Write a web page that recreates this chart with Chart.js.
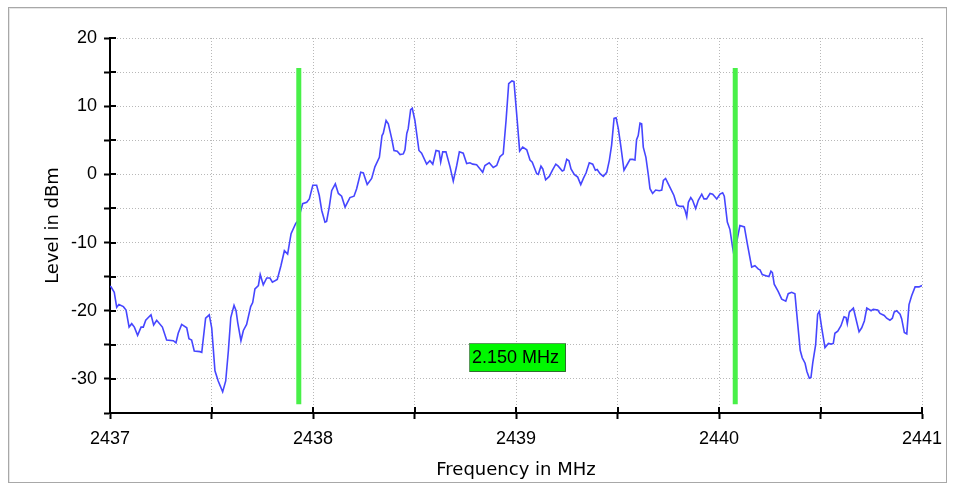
<!doctype html>
<html lang="en">
<head>
<meta charset="utf-8">
<title>Spectrum | Marker span</title>
<script src="https://cdn.jsdelivr.net/npm/chart.js@4"></script>
<style>
  html, body { margin: 0; padding: 0; background: #fff; }
  .panel { position: relative; width: 955px; height: 485px; }
  .panel canvas { position: absolute; left: 0; top: 0; }
  .frame {
    position: absolute; left: 8px; top: 7px; width: 937px; height: 474px;
    border: 1px solid #a8a8a8; box-shadow: inset 1px 1px 0 #e6e6e6;
    pointer-events: none;
  }
</style>
</head>
<body>
<div class="panel">
  <canvas id="spectrum" width="955" height="485"></canvas>
  <div class="frame"></div>
</div>

<script>
const freqMHz = [
  2437.000, 2437.005, 2437.021, 2437.033, 2437.044, 2437.066, 2437.079, 2437.094, 2437.107, 2437.120,
  2437.136, 2437.153, 2437.164, 2437.176, 2437.202, 2437.215, 2437.230, 2437.258, 2437.279, 2437.312,
  2437.325, 2437.336, 2437.353, 2437.378, 2437.389, 2437.402, 2437.415, 2437.443, 2437.452, 2437.471,
  2437.489, 2437.501, 2437.517, 2437.533, 2437.555, 2437.570, 2437.583, 2437.595, 2437.611, 2437.621,
  2437.629, 2437.645, 2437.657, 2437.673, 2437.693, 2437.703, 2437.714, 2437.731, 2437.740, 2437.755,
  2437.772, 2437.788, 2437.800, 2437.824, 2437.842, 2437.859, 2437.875, 2437.892, 2437.915, 2437.926,
  2437.949, 2437.969, 2437.982, 2437.999, 2438.018, 2438.031, 2438.043, 2438.059, 2438.067, 2438.080,
  2438.092, 2438.110, 2438.125, 2438.141, 2438.158, 2438.182, 2438.202, 2438.215, 2438.235, 2438.248,
  2438.267, 2438.289, 2438.305, 2438.327, 2438.340, 2438.346, 2438.360, 2438.371, 2438.388, 2438.399,
  2438.415, 2438.429, 2438.445, 2438.453, 2438.462, 2438.469, 2438.481, 2438.489, 2438.502, 2438.522,
  2438.535, 2438.560, 2438.576, 2438.590, 2438.606, 2438.621, 2438.629, 2438.639, 2438.655, 2438.675,
  2438.691, 2438.708, 2438.721, 2438.740, 2438.757, 2438.773, 2438.787, 2438.806, 2438.823, 2438.836,
  2438.847, 2438.868, 2438.888, 2438.905, 2438.921, 2438.937, 2438.951, 2438.964, 2438.980, 2438.990,
  2439.006, 2439.018, 2439.033, 2439.053, 2439.069, 2439.080, 2439.102, 2439.110, 2439.123, 2439.132,
  2439.146, 2439.164, 2439.179, 2439.196, 2439.208, 2439.228, 2439.236, 2439.250, 2439.261, 2439.271,
  2439.287, 2439.304, 2439.319, 2439.332, 2439.345, 2439.361, 2439.378, 2439.391, 2439.400, 2439.414,
  2439.430, 2439.447, 2439.460, 2439.471, 2439.483, 2439.493, 2439.504, 2439.517, 2439.532, 2439.545,
  2439.562, 2439.575, 2439.586, 2439.594, 2439.602, 2439.611, 2439.619, 2439.627, 2439.640, 2439.652,
  2439.660, 2439.673, 2439.688, 2439.706, 2439.718, 2439.726, 2439.737, 2439.750, 2439.770, 2439.778,
  2439.792, 2439.808, 2439.824, 2439.833, 2439.841, 2439.849, 2439.861, 2439.870, 2439.885, 2439.898,
  2439.915, 2439.926, 2439.939, 2439.956, 2439.969, 2439.989, 2440.005, 2440.018, 2440.026, 2440.041,
  2440.054, 2440.067, 2440.074, 2440.103, 2440.125, 2440.141, 2440.161, 2440.177, 2440.194, 2440.202,
  2440.213, 2440.235, 2440.246, 2440.256, 2440.263, 2440.272, 2440.292, 2440.309, 2440.329, 2440.341,
  2440.358, 2440.374, 2440.388, 2440.400, 2440.410, 2440.424, 2440.433, 2440.445, 2440.453, 2440.462,
  2440.476, 2440.486, 2440.494, 2440.506, 2440.522, 2440.539, 2440.552, 2440.563, 2440.571, 2440.585,
  2440.601, 2440.616, 2440.626, 2440.632, 2440.642, 2440.662, 2440.673, 2440.690, 2440.703, 2440.716,
  2440.728, 2440.739, 2440.749, 2440.760, 2440.782, 2440.793, 2440.814, 2440.826, 2440.842, 2440.854,
  2440.863, 2440.875, 2440.892, 2440.900, 2440.913, 2440.925, 2440.936, 2440.949, 2440.966, 2440.985, 2441.000
];
const levelDbm = [
  -16.4, -16.5, -17.3, -19.5, -19.1, -19.4, -19.9, -22.4, -21.9, -22.4,
  -23.6, -22.4, -22.4, -21.4, -20.6, -22.1, -21.4, -22.4, -24.3, -24.4,
  -24.7, -23.3, -22.0, -22.5, -24.1, -24.3, -25.9, -26.0, -26.1, -21.1,
  -20.6, -22.5, -28.8, -30.3, -31.9, -30.3, -25.9, -21.0, -19.2, -20.0,
  -21.7, -24.4, -22.9, -22.0, -19.4, -18.8, -16.8, -16.3, -14.7, -16.2,
  -15.2, -15.2, -15.8, -15.4, -13.4, -11.2, -11.7, -8.7, -7.2, -6.8,
  -4.3, -4.1, -3.6, -1.6, -1.6, -3.1, -5.3, -7.0, -6.9, -4.8,
  -2.4, -1.4, -2.8, -3.2, -4.8, -3.4, -3.2, -2.1, 0.3, 0.2,
  -1.5, -0.6, 1.1, 2.5, 5.7, 6.0, 7.9, 7.4, 5.2, 3.5,
  3.4, 2.9, 3.0, 3.6, 6.0, 6.7, 9.5, 9.7, 7.9, 3.5,
  3.1, 1.5, 2.0, 1.5, 3.5, 3.4, 1.8, 3.3, 3.3, 1.1,
  -1.0, 1.3, 3.3, 3.1, 1.6, 1.7, 1.5, 1.4, 0.8, 0.3,
  1.3, 1.7, 1.0, 1.3, 2.6, 3.0, 7.9, 13.3, 13.7, 13.6,
  7.9, 3.4, 4.0, 3.6, 2.1, 1.8, 0.1, 0.0, 1.2, 0.8,
  -0.8, -0.3, 0.6, 1.5, 1.2, 0.5, 0.6, 2.2, 2.0, 0.8,
  0.0, -0.4, -1.5, -0.6, 0.2, 1.7, 1.5, 0.6, 0.7, 0.1,
  -0.3, 0.3, 2.1, 4.3, 8.2, 8.3, 6.7, 4.0, 0.6, 1.3,
  2.2, 2.2, 2.1, 5.1, 5.7, 7.5, 7.4, 4.0, 2.5, -0.1,
  -2.1, -2.8, -2.3, -2.4, -2.3, -0.9, -0.6, -1.4, -2.6, -3.1,
  -4.5, -4.7, -4.7, -5.3, -6.2, -4.1, -3.4, -3.8, -5.0, -3.8,
  -2.9, -3.6, -3.6, -2.8, -2.9, -3.6, -2.9, -2.7, -3.2, -7.0,
  -8.1, -10.7, -11.9, -7.5, -7.7, -10.4, -13.6, -13.4, -13.9, -14.0,
  -14.7, -14.9, -15.0, -14.2, -14.4, -16.1, -17.2, -18.3, -18.6, -17.5,
  -17.3, -17.5, -22.0, -25.8, -26.9, -27.7, -28.9, -29.9, -29.8, -27.6,
  -25.0, -20.5, -20.1, -22.5, -25.4, -24.8, -24.9, -24.8, -23.3, -23.0,
  -22.2, -20.9, -21.0, -21.9, -20.2, -19.6, -21.0, -23.1, -22.5, -21.5,
  -19.6, -19.8, -20.0, -19.8, -19.9, -20.4, -20.7, -21.1, -21.4, -21.1,
  -20.2, -20.0, -20.5, -21.2, -23.2, -23.4, -19.1, -17.8, -16.5, -16.5, -16.3
];

// the two green markers and the span they measure
const markerMHz = [2437.93, 2440.08];
const markerSpanDbm = [15.6, -33.7];
const spanLabelDbm = -26.8;

// axes
const freqRange = [2437, 2441];
const levelRange = [-35, 20];

const tickFont = { family: "'Liberation Sans Narrow', 'Liberation Sans', Arial, sans-serif", size: 18 };
const titleFont = { family: "'DejaVu Sans', sans-serif", size: 18 };

const trace = freqMHz.map((f, i) => ({ x: f, y: levelDbm[i] }));
const markerSets = markerMHz.map(f => ({
    data: markerSpanDbm.map(v => ({ x: f, y: v })),
    borderColor: '#48f048',
    borderWidth: 5,
    borderCapStyle: 'butt',
    pointRadius: 0,
    order: 0
}));

// inner half of the tick marks + the span readout box
const overlay = {
    id: 'overlay',
    afterDraw(chart) {
        const { ctx, scales: { x, y } } = chart;
        ctx.save();
        ctx.strokeStyle = '#000';
        ctx.lineWidth = 2;
        ctx.beginPath();
        x.ticks.forEach(t => {
            const px = Math.round(x.getPixelForValue(t.value));
            ctx.moveTo(px, y.bottom);
            ctx.lineTo(px, y.bottom - 6);
        });
        y.ticks.forEach(t => {
            const py = Math.round(y.getPixelForValue(t.value));
            ctx.moveTo(x.left, py);
            ctx.lineTo(x.left + 6, py);
        });
        ctx.stroke();

        const span = markerMHz[1] - markerMHz[0];
        const cx = x.getPixelForValue((markerMHz[0] + markerMHz[1]) / 2);
        const cy = y.getPixelForValue(spanLabelDbm);
        const w = 97, h = 29;
        const bx = Math.round(cx - w / 2), by = Math.round(cy - h / 2);
        ctx.fillStyle = '#00f800';
        ctx.fillRect(bx, by, w, h);
        ctx.lineWidth = 1;
        ctx.strokeStyle = '#5a9a5a';
        ctx.strokeRect(bx + 0.5, by + 0.5, w - 1, h - 1);
        ctx.strokeStyle = '#2e6e2e';
        ctx.beginPath();
        ctx.moveTo(bx + 1, by + h - 0.5);
        ctx.lineTo(bx + w - 0.5, by + h - 0.5);
        ctx.lineTo(bx + w - 0.5, by + 1);
        ctx.stroke();
        ctx.fillStyle = '#000';
        ctx.font = tickFont.size + 'px ' + tickFont.family;
        ctx.textAlign = 'left';
        ctx.textBaseline = 'middle';
        ctx.fillText(span.toFixed(3) + ' MHz', bx + 3, by + h / 2 + 1);
        ctx.restore();
    }
};

new Chart(document.getElementById('spectrum'), {
    type: 'line',
    data: {
        datasets: [
            {
                data: trace,
                borderColor: '#4646ff',
                borderWidth: 1.6,
                pointRadius: 0,
                tension: 0,
                order: 1
            },
            ...markerSets
        ]
    },
    options: {
        responsive: false,
        animation: false,
        events: [],
        layout: { padding: { top: 38, right: 33, left: 0, bottom: 0 } },
        plugins: { legend: { display: false }, tooltip: { enabled: false } },
        scales: {
            x: {
                type: 'linear',
                min: freqRange[0],
                max: freqRange[1],
                afterFit(scale) { scale.height = 72; },
                ticks: {
                    stepSize: 0.5,
                    autoSkip: false,
                    maxRotation: 0,
                    padding: 9,
                    color: '#000',
                    font: tickFont,
                    callback: v => (v % 1 === 0 ? String(v) : '')
                },
                grid: { color: '#b8b8b8', tickColor: '#000', tickWidth: 2, tickLength: 6, lineWidth: 1 },
                border: { display: true, color: '#000', width: 2, dash: [1, 2] },
                title: { display: true, text: 'Frequency in MHz', color: '#000', font: titleFont, padding: { top: 0, bottom: 4 } }
            },
            y: {
                min: levelRange[0],
                max: levelRange[1],
                afterFit(scale) { scale.width = 110; },
                ticks: {
                    stepSize: 5,
                    padding: 7,
                    color: '#000',
                    font: tickFont,
                    callback: v => (v % 10 === 0 ? String(v) : '')
                },
                grid: { color: '#b8b8b8', tickColor: '#000', tickWidth: 2, tickLength: 6, lineWidth: 1 },
                border: { display: true, color: '#000', width: 2, dash: [1, 2] },
                title: { display: true, text: 'Level in dBm', color: '#000', font: titleFont, padding: { top: 43, bottom: 0 } }
            }
        }
    },
    plugins: [overlay]
});
</script>
</body>
</html>
